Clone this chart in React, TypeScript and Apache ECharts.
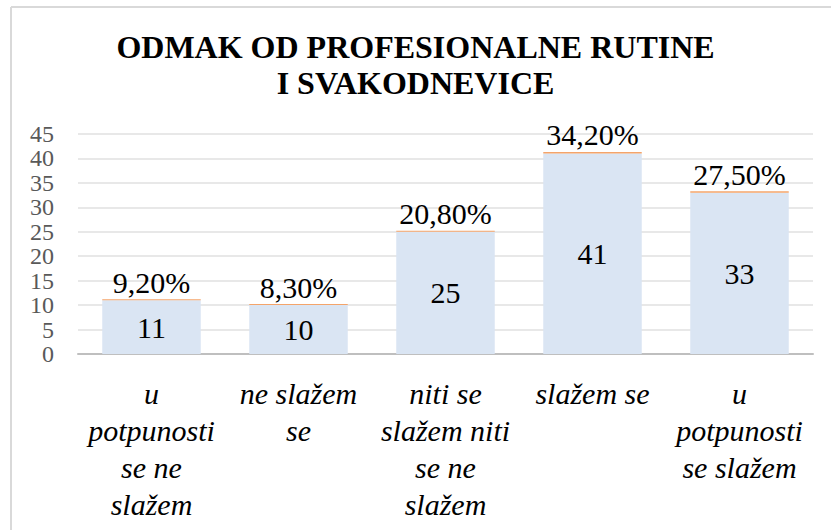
import React, { useEffect, useRef } from "react";
import * as echarts from "echarts";

const categories = [
  "u\npotpunosti\nse ne\nslažem",
  "ne slažem\nse",
  "niti se\nslažem niti\nse ne\nslažem",
  "slažem se",
  "u\npotpunosti\nse slažem",
];
const counts = [11, 10, 25, 41, 33];
const percents = [9.2, 8.3, 20.8, 34.2, 27.5];
const yTicks = { min: 0, max: 45, interval: 5 };

const serif = "Liberation Serif";

export default function App() {
  const ref = useRef<HTMLDivElement>(null);
  useEffect(() => {
    if (!ref.current) return;
    const chart = echarts.init(ref.current, null, { renderer: "svg" });
    chart.setOption({
      animation: false,
      backgroundColor: "#ffffff",
      textStyle: { fontFamily: serif },
      title: {
        text: "ODMAK OD PROFESIONALNE RUTINE\nI SVAKODNEVICE",
        left: "center",
        top: 24,
        textStyle: {
          fontFamily: serif,
          fontWeight: "bold",
          fontSize: 32,
          lineHeight: 36,
          color: "#000000",
        },
      },
      graphic: [
        { type: "line", shape: { x1: 11, y1: 7, x2: 831, y2: 7 }, style: { stroke: "#d9d9d9", lineWidth: 2 } },
        { type: "line", shape: { x1: 11, y1: 7, x2: 11, y2: 530 }, style: { stroke: "#d9d9d9", lineWidth: 2 } },
      ],
      grid: { left: 78, right: 18, top: 134, bottom: 176, containLabel: false },
      xAxis: {
        type: "category",
        data: categories,
        axisTick: { show: false },
        axisLine: { lineStyle: { color: "#bfbfbf", width: 2 } },
        axisLabel: {
          interval: 0,
          margin: 21,
          fontFamily: serif,
          fontStyle: "italic",
          fontSize: 30,
          lineHeight: 37,
          color: "#000000",
        },
      },
      yAxis: {
        type: "value",
        min: yTicks.min,
        max: yTicks.max,
        interval: yTicks.interval,
        axisLine: { show: false },
        axisTick: { show: false },
        splitLine: { lineStyle: { color: "#e0e0e0", width: 1.5 } },
        axisLabel: {
          margin: 24,
          showMinLabel: true,
          showMaxLabel: true,
          hideOverlap: false,
          fontFamily: serif,
          fontSize: 24,
          lineHeight: 20,
          color: "#595959",
        },
      },
      series: [
        {
          type: "bar",
          stack: "a",
          data: counts,
          barWidth: "67%",
          itemStyle: { color: "#dae5f3" },
          label: {
            show: true,
            position: "inside",
            fontFamily: serif,
            fontSize: 30,
            color: "#000000",
          },
        },
        {
          type: "bar",
          stack: "a",
          data: percents.map((p) => p / 100),
          barMinHeight: 1,
          itemStyle: { color: "#f4a46a" },
          label: {
            show: true,
            position: "top",
            distance: 2,
            fontFamily: serif,
            fontSize: 30,
            color: "#000000",
            formatter: (p: any) => percents[p.dataIndex].toFixed(2).replace(".", ",") + "%",
          },
        },
      ],
    });
    return () => chart.dispose();
  }, []);
  return (
    <div
      ref={ref}
      style={{ position: "absolute", left: 0, top: 0, width: 831, height: 530 }}
    />
  );
}
